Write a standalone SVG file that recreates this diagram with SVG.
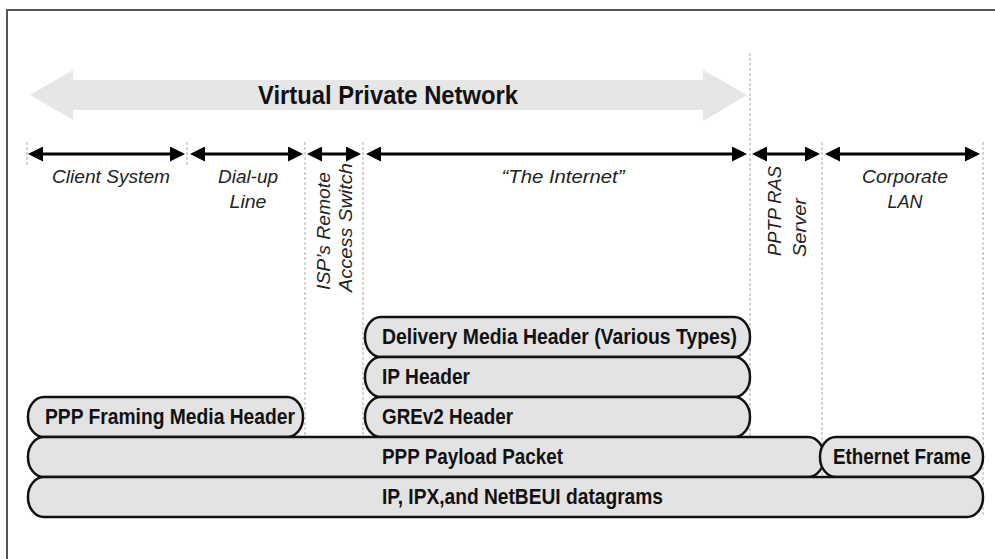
<svg xmlns="http://www.w3.org/2000/svg" width="995" height="559" viewBox="0 0 995 559">
<style>
.frame{fill:none;stroke:#555;stroke-width:2}
.guide{stroke:#aaa;stroke-width:1;stroke-dasharray:3 2;fill:none}
.dim{stroke:#000;stroke-width:3;fill:none;marker-start:url(#ah);marker-end:url(#ah)}
.lbl{font-family:"Liberation Sans",Arial,sans-serif;font-style:italic;font-size:19px;fill:#222}
.box{fill:#e3e3e3;stroke:#111;stroke-width:2.5}
.bt{font-family:"Liberation Sans",Arial,sans-serif;font-weight:bold;font-size:22px;fill:#111}
.title{font-family:"Liberation Sans",Arial,sans-serif;font-weight:bold;font-size:26px;fill:#111}
</style>
<defs>
<marker id="ah" viewBox="0 0 15 15" refX="12" refY="7.5" markerWidth="15" markerHeight="15" markerUnits="userSpaceOnUse" orient="auto-start-reverse">
<path d="M0,0 L15,7.5 L0,15 Z" fill="#000"/>
</marker>
</defs>
<rect width="995" height="559" fill="#fff"/>
<path class="frame" d="M995 10 H7 V559"/>

<g id="vpn">
<polygon points="30,95 73,70 73,80 703,80 703,70 747,95 703,121 703,110 73,110 73,120" fill="#e6e6e6"/>
<text class="title" x="258" y="104" textLength="260" lengthAdjust="spacingAndGlyphs">Virtual Private Network</text>
</g>

<g id="guides">
<line class="guide" x1="27" y1="142" x2="27" y2="166"/>
<line class="guide" x1="187" y1="142" x2="187" y2="166"/>
<line class="guide" x1="305" y1="142" x2="305" y2="437"/>
<line class="guide" x1="363" y1="142" x2="363" y2="437"/>
<line class="guide" x1="750" y1="53" x2="750" y2="437"/>
<line class="guide" x1="822" y1="142" x2="822" y2="477"/>
<line class="guide" x1="983" y1="142" x2="983" y2="517"/>
</g>

<g id="connectors">
<line class="dim" x1="31" y1="154" x2="182" y2="154"/>
<line class="dim" x1="193" y1="154" x2="300" y2="154"/>
<line class="dim" x1="310" y1="154" x2="358" y2="154"/>
<line class="dim" x1="369" y1="154" x2="744" y2="154"/>
<line class="dim" x1="755" y1="154" x2="817" y2="154"/>
<line class="dim" x1="828" y1="154" x2="977" y2="154"/>
</g>

<g id="client-system"><text class="lbl" x="111" y="183" text-anchor="middle" textLength="118" lengthAdjust="spacingAndGlyphs">Client System</text></g>
<g id="dialup-line">
<text class="lbl" x="248" y="183" text-anchor="middle" textLength="60" lengthAdjust="spacingAndGlyphs">Dial-up</text>
<text class="lbl" x="248" y="208" text-anchor="middle" textLength="37" lengthAdjust="spacingAndGlyphs">Line</text>
</g>
<g id="isp-switch">
<text class="lbl" transform="translate(330,290) rotate(-90)" textLength="118" lengthAdjust="spacingAndGlyphs">ISP’s Remote</text>
<text class="lbl" transform="translate(352,292) rotate(-90)" textLength="129" lengthAdjust="spacingAndGlyphs">Access Switch</text>
</g>
<g id="internet"><text class="lbl" x="563" y="183" text-anchor="middle" textLength="123" lengthAdjust="spacingAndGlyphs">“The Internet”</text></g>
<g id="pptp-server">
<text class="lbl" transform="translate(781,256) rotate(-90)" textLength="90" lengthAdjust="spacingAndGlyphs">PPTP RAS</text>
<text class="lbl" transform="translate(806,257) rotate(-90)" textLength="59" lengthAdjust="spacingAndGlyphs">Server</text>
</g>
<g id="corporate-lan">
<text class="lbl" x="905" y="183" text-anchor="middle" textLength="86" lengthAdjust="spacingAndGlyphs">Corporate</text>
<text class="lbl" x="905" y="208" text-anchor="middle" textLength="35" lengthAdjust="spacingAndGlyphs">LAN</text>
</g>

<g id="delivery-header">
<rect class="box" x="365" y="317" width="385" height="40" rx="16" ry="19.5"/>
<text class="bt" x="382" y="344" textLength="355" lengthAdjust="spacingAndGlyphs">Delivery Media Header (Various Types)</text>
</g>
<g id="ip-header">
<rect class="box" x="365" y="357" width="385" height="40" rx="16" ry="19.5"/>
<text class="bt" x="382" y="384" textLength="88" lengthAdjust="spacingAndGlyphs">IP Header</text>
</g>
<g id="grev2-header">
<rect class="box" x="365" y="397" width="385" height="40" rx="16" ry="19.5"/>
<text class="bt" x="382" y="424" textLength="131" lengthAdjust="spacingAndGlyphs">GREv2 Header</text>
</g>
<g id="ppp-framing">
<rect class="box" x="28" y="397" width="275" height="40" rx="16" ry="19.5"/>
<text class="bt" x="45" y="424" textLength="250" lengthAdjust="spacingAndGlyphs">PPP Framing Media Header</text>
</g>
<g id="ppp-payload">
<rect class="box" x="28" y="437" width="796" height="40" rx="16" ry="19.5"/>
<text class="bt" x="382" y="464" textLength="181" lengthAdjust="spacingAndGlyphs">PPP Payload Packet</text>
</g>
<g id="ethernet-frame">
<rect class="box" x="820" y="437" width="163" height="40" rx="16" ry="19.5"/>
<text class="bt" x="833" y="464" textLength="138" lengthAdjust="spacingAndGlyphs">Ethernet Frame</text>
</g>
<g id="datagrams">
<rect class="box" x="28" y="477" width="955" height="40" rx="16" ry="19.5"/>
<text class="bt" x="382" y="504" textLength="281" lengthAdjust="spacingAndGlyphs">IP, IPX,and NetBEUI datagrams</text>
</g>
</svg>
